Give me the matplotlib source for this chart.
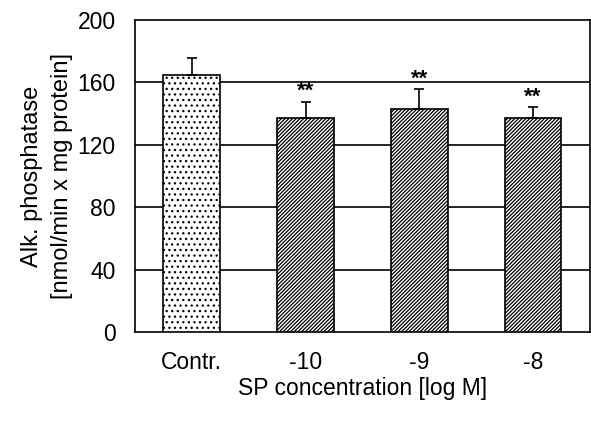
import numpy as np
import matplotlib
matplotlib.use("Agg")
import matplotlib.pyplot as plt

plt.rcParams['font.family'] = ['Liberation Sans', 'DejaVu Sans']
plt.rcParams['hatch.linewidth'] = 0.9

# data
groups = ["Contr.", "-10", "-9", "-8"]
means = [165, 137, 143, 137]
sem = [10.5, 10.5, 12.5, 7]
signif = ["", "**", "**", "**"]
y_ticks = [0, 40, 80, 120, 160, 200]

fig = plt.figure(figsize=(5.91, 4.24), dpi=100)
ax = fig.add_axes([0.2284, 0.217, 0.7696, 0.7358])

x = np.arange(len(groups)) + 0.5
hatches = ["...", "/////////", "/////////", "/////////"]
for xi, m, e, h in zip(x, means, sem, hatches):
    ax.bar(xi, m, width=0.5, color="white", edgecolor="black", hatch=h,
           linewidth=1.2, zorder=3)
ax.errorbar(x, means, yerr=[np.zeros(len(sem)), sem], fmt="none",
            ecolor="black", elinewidth=1.2, capsize=3.5, capthick=1.2, zorder=4)
for xi, m, e, s in zip(x, means, sem, signif):
    if s:
        ax.annotate(s, (xi, m + e), xytext=(0, 0), textcoords="offset points",
                    ha="center", va="bottom", fontsize=16, fontweight="bold")

for yv in y_ticks[1:-1]:
    ax.axhline(yv, color="black", lw=1.2, zorder=1)

ax.set_xlim(0, 4)
ax.set_ylim(0, 200)
ax.set_yticks(y_ticks)
ax.set_xticks(x)
ax.set_xticklabels(groups)
ax.tick_params(axis="both", length=0, labelsize=16.5)
ax.tick_params(axis="y", pad=14)
ax.tick_params(axis="x", pad=14)
for sp in ax.spines.values():
    sp.set_linewidth(1.2)

ax.set_xlabel("SP concentration [log M]", fontsize=16.5, labelpad=2)
ax.set_ylabel("Alk. phosphatase\n[nmol/min x mg protein]", fontsize=17,
              labelpad=3, linespacing=1.45)

fig.savefig("out.png", dpi=100)
